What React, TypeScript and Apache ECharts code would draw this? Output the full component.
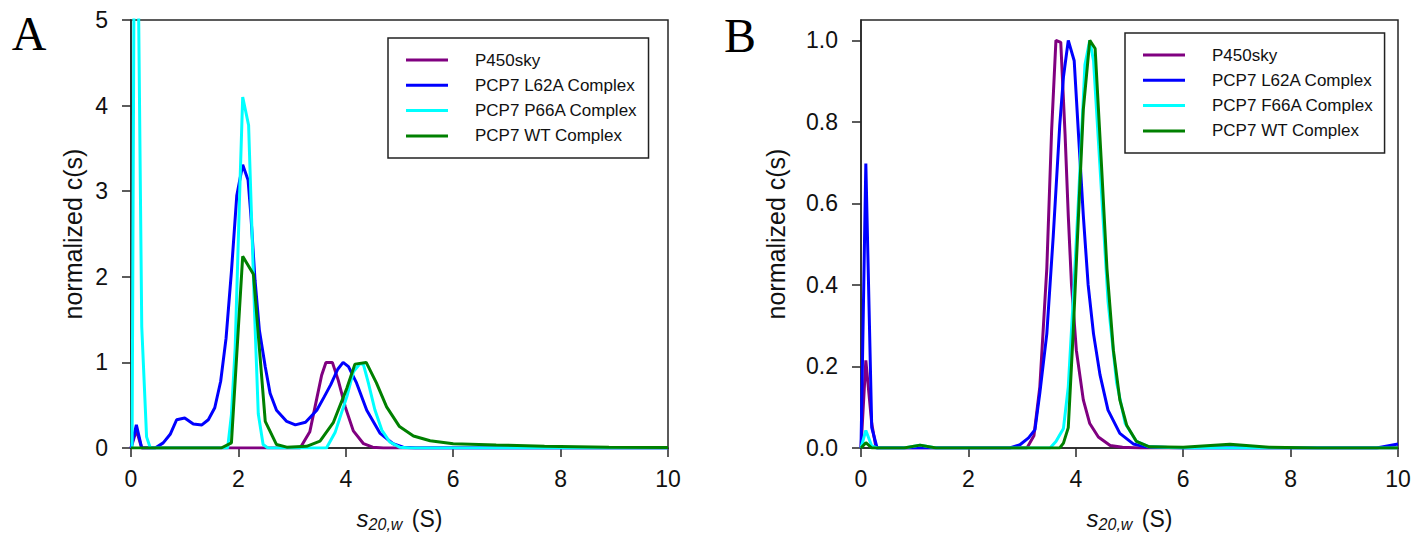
import React, { useEffect, useRef } from "react";
import * as echarts from "echarts";

// ---------- Data (s in Svedberg, normalized c(s)) ----------
const xTicks = [0, 2, 4, 6, 8, 10];
const yTicksA = [0, 1, 2, 3, 4, 5];
const yTicksB = [0, 0.2, 0.4, 0.6, 0.8, 1.0];

const seriesNamesA = ["P450sky", "PCP7 L62A Complex", "PCP7 P66A Complex", "PCP7 WT Complex"];
const seriesNamesB = ["P450sky", "PCP7 L62A Complex", "PCP7 F66A Complex", "PCP7 WT Complex"];
const seriesColors = ["#800080", "#0000FF", "#00FFFF", "#008000"];

// Panel A
const aP450sky: number[][] = [
  [0, 0], [0.1, 0.21], [0.2, 0], [3.15, 0], [3.33, 0.19], [3.46, 0.58], [3.55, 0.85],
  [3.63, 1.0], [3.75, 1.0], [3.86, 0.79], [3.99, 0.48], [4.14, 0.2], [4.33, 0.05],
  [4.5, 0.01], [4.7, 0], [10, 0],
];
const aL62A: number[][] = [
  [0, 0], [0.1, 0.27], [0.2, 0], [0.45, 0], [0.6, 0.06], [0.73, 0.16], [0.85, 0.33],
  [1.0, 0.35], [1.16, 0.28], [1.32, 0.27], [1.44, 0.33], [1.56, 0.47], [1.67, 0.78],
  [1.77, 1.28], [1.87, 2.06], [1.97, 2.95], [2.08, 3.31], [2.18, 3.13], [2.23, 2.74],
  [2.31, 1.96], [2.39, 1.38], [2.5, 0.95], [2.59, 0.64], [2.71, 0.44], [2.9, 0.31],
  [3.06, 0.27], [3.25, 0.3], [3.46, 0.44], [3.6, 0.6], [3.72, 0.74], [3.85, 0.92],
  [3.95, 1.0], [4.05, 0.95], [4.2, 0.76], [4.39, 0.44], [4.64, 0.17], [4.88, 0.05],
  [5.07, 0.01], [5.3, 0], [10, 0],
];
const aP66A: number[][] = [
  [0.02, 0], [0.08, 9], [0.2, 1.42], [0.29, 0.13], [0.36, 0], [1.8, 0], [1.87, 0.39],
  [1.94, 1.17], [2.02, 2.9], [2.08, 4.1], [2.19, 3.77], [2.3, 1.6], [2.37, 0.4],
  [2.46, 0.04], [2.55, 0], [3.64, 0], [3.8, 0.18], [3.92, 0.41], [4.02, 0.6],
  [4.14, 0.89], [4.27, 0.99], [4.33, 0.97], [4.42, 0.76], [4.54, 0.45], [4.67, 0.21],
  [4.82, 0.07], [5.0, 0.01], [5.2, 0], [10, 0],
];
const aWT: number[][] = [
  [0, 0], [1.68, 0], [1.87, 0.06], [2.08, 2.24], [2.28, 2.03], [2.5, 0.31], [2.71, 0.04],
  [2.9, 0.01], [3.27, 0.02], [3.52, 0.08], [3.77, 0.3], [4.02, 0.7], [4.17, 0.98],
  [4.38, 1.0], [4.57, 0.76], [4.76, 0.48], [5.0, 0.25], [5.26, 0.14], [5.57, 0.085],
  [6.0, 0.05], [6.8, 0.035], [7.7, 0.02], [8.9, 0.01], [10, 0.005],
];

// Panel B
const bP450sky: number[][] = [
  [0, 0], [0.09, 0.215], [0.2, 0.06], [0.28, 0], [3.09, 0], [3.22, 0.03], [3.33, 0.15],
  [3.46, 0.44], [3.55, 0.78], [3.63, 1.0], [3.72, 0.995], [3.8, 0.77], [3.86, 0.57],
  [3.92, 0.4], [4.01, 0.24], [4.14, 0.118], [4.26, 0.06], [4.42, 0.027], [4.64, 0.006],
  [4.87, 0.002], [5.2, 0], [10, 0],
];
const bL62A: number[][] = [
  [0, 0], [0.09, 0.698], [0.2, 0.05], [0.3, 0], [2.77, 0], [2.96, 0.008], [3.12, 0.025],
  [3.24, 0.045], [3.33, 0.135], [3.46, 0.28], [3.58, 0.52], [3.7, 0.79], [3.77, 0.91],
  [3.86, 1.0], [3.97, 0.95], [4.05, 0.77], [4.14, 0.57], [4.23, 0.4], [4.33, 0.28],
  [4.45, 0.18], [4.6, 0.093], [4.82, 0.036], [5.07, 0.01], [5.3, 0.003], [6, 0],
  [9.6, 0], [10, 0.01],
];
const bF66A: number[][] = [
  [0, 0], [0.09, 0.043], [0.2, 0.005], [0.3, 0], [0.8, 0], [1.1, 0.007], [1.4, 0],
  [3.52, 0], [3.63, 0.016], [3.77, 0.048], [3.86, 0.15], [3.95, 0.36], [4.05, 0.61],
  [4.17, 0.94], [4.26, 1.0], [4.33, 0.95], [4.45, 0.69], [4.6, 0.36], [4.76, 0.16],
  [4.92, 0.06], [5.13, 0.016], [5.37, 0.003], [6, 0], [10, 0],
];
const bWT: number[][] = [
  [0, 0], [0.09, 0.013], [0.2, 0], [0.8, 0], [1.1, 0.007], [1.4, 0], [3.7, 0],
  [3.77, 0.012], [3.86, 0.05], [3.95, 0.28], [4.05, 0.57], [4.14, 0.83], [4.26, 1.0],
  [4.36, 0.98], [4.48, 0.69], [4.58, 0.44], [4.7, 0.24], [4.82, 0.118], [4.95, 0.055],
  [5.13, 0.016], [5.37, 0.003], [6, 0.002], [6.87, 0.009], [7.6, 0.002], [8.5, 0], [10, 0],
];

const dataA = [aP450sky, aL62A, aP66A, aWT];
const dataB = [bP450sky, bL62A, bF66A, bWT];

// ---------- Styling ----------
const SANS = "Liberation Sans, Arial, sans-serif";
const SERIF = "Liberation Serif, Times New Roman, serif";
const AXIS_COLOR = "#262626";

function xAxisCfg(gridIndex: number) {
  return {
    type: "value",
    gridIndex,
    min: 0,
    max: 10,
    interval: 2,
    name: "{i|s}{sub|20,w} (S)",
    nameLocation: "middle",
    nameGap: 57,
    nameTextStyle: {
      fontFamily: SANS,
      fontSize: 23,
      color: "#111",
      rich: {
        i: { fontFamily: SANS, fontSize: 24, fontStyle: "italic", color: "#111" },
        sub: { fontFamily: SANS, fontSize: 16, fontStyle: "italic", color: "#111", padding: [11, 3, 0, 0] },
      },
    },
    axisLine: { show: true, onZero: false, lineStyle: { color: AXIS_COLOR, width: 1.5 } },
    axisTick: { show: true, inside: false, length: 9, lineStyle: { color: AXIS_COLOR, width: 1.5 }, customValues: xTicks },
    axisLabel: { fontFamily: SANS, fontSize: 23, color: "#111", margin: 19, customValues: xTicks },
    splitLine: { show: false },
  };
}

function yAxisCfg(gridIndex: number, max: number, interval: number, ticks: number[], gap: number, digits: number) {
  return {
    type: "value",
    gridIndex,
    min: 0,
    max,
    interval,
    name: "normalized c(s)",
    nameLocation: "middle",
    nameGap: gap,
    nameTextStyle: { fontFamily: SANS, fontSize: 25, color: "#111" },
    axisLine: { show: true, onZero: false, lineStyle: { color: AXIS_COLOR, width: 1.5 } },
    axisTick: { show: true, inside: false, length: 9, lineStyle: { color: AXIS_COLOR, width: 1.5 }, customValues: ticks },
    axisLabel: {
      fontFamily: SANS,
      fontSize: 23,
      color: "#111",
      margin: 23,
      customValues: ticks,
      formatter: (v: number) => v.toFixed(digits),
    },
    splitLine: { show: false },
  };
}

function legendCfg(names: string[], left: number, top: number) {
  return {
    orient: "vertical",
    left,
    top,
    data: names,
    icon: "rect",
    itemWidth: 42,
    itemHeight: 3,
    itemGap: 8.3,
    padding: [13.5, 11, 13.5, 18],
    borderColor: "#222",
    borderWidth: 1.5,
    backgroundColor: "#fff",
    selectedMode: false,
    textStyle: {
      fontFamily: SANS,
      fontSize: 17,
      color: "#111",
      lineHeight: 17,
      padding: [0, 0, 0, 22],
    },
  };
}

export default function App() {
  const ref = useRef<HTMLDivElement>(null);

  useEffect(() => {
    if (!ref.current) return;
    const chart = echarts.init(ref.current, null, { renderer: "svg" });

    const series: any[] = [];
    dataA.forEach((d, i) => {
      series.push({
        type: "line",
        name: seriesNamesA[i],
        xAxisIndex: 0,
        yAxisIndex: 0,
        data: d,
        showSymbol: false,
        symbol: "none",
        clip: true,
        lineStyle: { color: seriesColors[i], width: 3 },
        itemStyle: { color: seriesColors[i] },
        z: i === 3 ? 5 : 2 + i * 0.1,
      });
    });
    dataB.forEach((d, i) => {
      series.push({
        type: "line",
        name: seriesNamesB[i],
        xAxisIndex: 1,
        yAxisIndex: 1,
        data: d,
        showSymbol: false,
        symbol: "none",
        clip: true,
        lineStyle: { color: seriesColors[i], width: 3 },
        itemStyle: { color: seriesColors[i] },
        z: i === 3 ? 5 : 2 + i * 0.1,
      });
    });

    chart.setOption({
      animation: false,
      backgroundColor: "#ffffff",
      grid: [
        { left: 131, top: 20, width: 537, height: 428, show: true, borderColor: AXIS_COLOR, borderWidth: 1.5, backgroundColor: "transparent" },
        { left: 861, top: 20, width: 537, height: 428, show: true, borderColor: AXIS_COLOR, borderWidth: 1.5, backgroundColor: "transparent" },
      ],
      xAxis: [xAxisCfg(0), xAxisCfg(1)],
      yAxis: [
        yAxisCfg(0, 5, 1, yTicksA, 46, 0),
        yAxisCfg(1, 1.05, 0.2, yTicksB, 73, 1),
      ],
      legend: [
        legendCfg(seriesNamesA, 388, 38),
        legendCfg(seriesNamesB, 1125, 33),
      ],
      graphic: [
        { type: "text", x: 29, y: 33, style: { text: "A", font: `48px ${SERIF}`, fill: "#000", align: "center", verticalAlign: "middle" } },
        { type: "text", x: 740, y: 35, style: { text: "B", font: `48px ${SERIF}`, fill: "#000", align: "center", verticalAlign: "middle" } },
      ],
      series,
    });

    return () => chart.dispose();
  }, []);

  return (
    <div
      ref={ref}
      style={{ position: "fixed", left: 0, top: 0, width: 1428, height: 538, background: "#fff" }}
    />
  );
}
